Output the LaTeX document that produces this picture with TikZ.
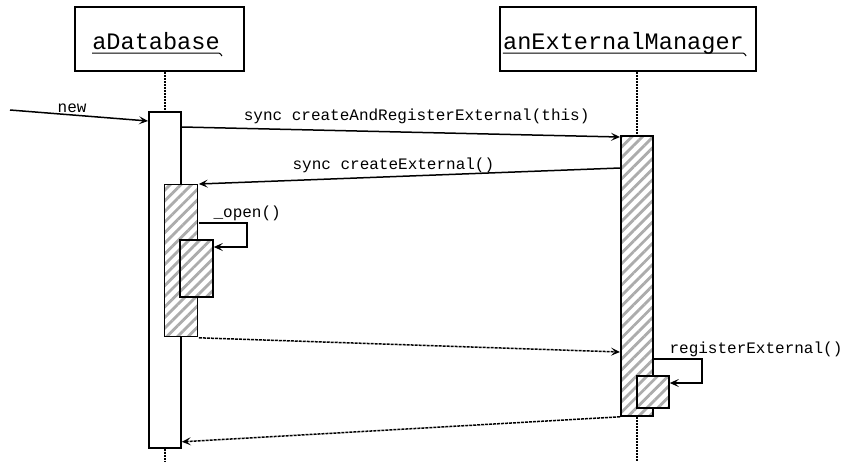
\documentclass[tikz,border=0pt]{standalone}
\usepackage{fontspec}
\setmonofont{Liberation Mono}
\usetikzlibrary{arrows.meta,calc,patterns.meta}

\begin{document}
\begin{tikzpicture}[x=1pt,y=-1pt,
  head/.style={draw,line width=1.8pt,minimum width=169pt,minimum height=64pt,inner sep=0pt},
  headtxt/.style={font=\ttfamily\fontsize{23.6}{28}\selectfont,inner sep=0pt,anchor=base},
  uline/.style={line width=1pt},
  actbase/.style={draw,line width=1.8pt,anchor=north west,inner sep=0pt,minimum width=32pt},
  act/.style={actbase,fill=white},
  busy/.style={actbase,preaction={fill=white},pattern={Lines[angle=45,distance=7.5pt,line width=2.8pt]},pattern color=gray!65},
  life/.style={line width=1.6pt,dash pattern=on 2pt off 1pt},
  msg/.style={-{Stealth[length=9pt,width=8pt,inset=4pt]},line width=1.5pt},
  ret/.style={msg,dash pattern=on 3pt off 1pt},
  lbl/.style={font=\ttfamily\fontsize{16}{19}\selectfont,inner sep=0pt}]
  \useasboundingbox (0,0) rectangle (843,461);
  % object heads
  \node[head] (dbH) at (159.5,39) {};
  \node[head,minimum width=256pt] (extH) at (628,39) {};
  \node[headtxt] (dbName) at (156,49) {aDatabase};
  \node[headtxt] (extName) at (623.5,49) {anExternalManager};
  \draw[uline] ([yshift=-4pt]dbName.base west) -- ([yshift=-4pt,xshift=-1pt]dbName.base east) to[out=0,in=135] ++(3,3);
  \draw[uline] ([yshift=-4pt]extName.base west) -- ([yshift=-4pt,xshift=-1pt]extName.base east) to[out=0,in=135] ++(3,3);
  % activations
  \node[act,minimum height=336pt] (dbA) at (148,111) {};
  \node[busy,minimum height=152pt,minimum width=33pt] (dbB) at (163,183) {};
  \node[busy,minimum height=57pt,minimum width=33pt] (dbC) at (179,239) {};
  \node[busy,minimum height=280pt] (extA) at (620,135) {};
  \node[busy,minimum height=32pt] (extB) at (636,375) {};
  % lifelines
  \coordinate (dbEnd) at ([yshift=-14pt]dbA.south);
  \coordinate (extEnd) at ([yshift=-46pt]extA.south);
  \draw[life] (dbH.south -| dbA.north) -- (dbA.north);
  \draw[life] (dbA.south) -- (dbEnd);
  \draw[life] (extH.south -| extA.north) -- (extA.north);
  \draw[life] (extA.south) -- (extEnd);
  % messages
  \coordinate (newSrc) at (10,110);
  \draw[msg] (newSrc) -- node[lbl,pos=0.45,anchor=base,yshift=2.5pt]{new} ($(dbA.north west)+(0,10)$);
  \draw[msg] ($(dbA.north east)+(0,16)$) -- node[lbl,pos=0.536,anchor=base,yshift=11.4pt]{sync createAndRegisterExternal(this)} ($(extA.north west)+(0,2)$);
  \draw[msg] ($(extA.north west)+(0,33)$) -- node[lbl,pos=0.538,anchor=base,yshift=7.6pt]{sync createExternal()} ($(dbB.north east)+(0,1)$);
  \draw[msg] ($(dbB.north east)+(0,40)$) -- node[lbl,pos=0,anchor=base west,xshift=14pt,yshift=6pt]{\_open()} ++(48,0) |- ($(dbC.north east)+(0,8)$);
  \draw[ret] (dbB.south east) -- ($(extA.north west)+(0,217)$);
  \draw[msg] ($(extA.north east)+(0,224)$) -- node[lbl,pos=0,anchor=base west,xshift=15pt,yshift=6pt]{registerExternal()} ++(48,0) |- ($(extB.north east)+(0,8)$);
  \draw[ret] (extA.south west) -- ($(dbA.south east)+(0,-7)$);
\end{tikzpicture}
\end{document}
